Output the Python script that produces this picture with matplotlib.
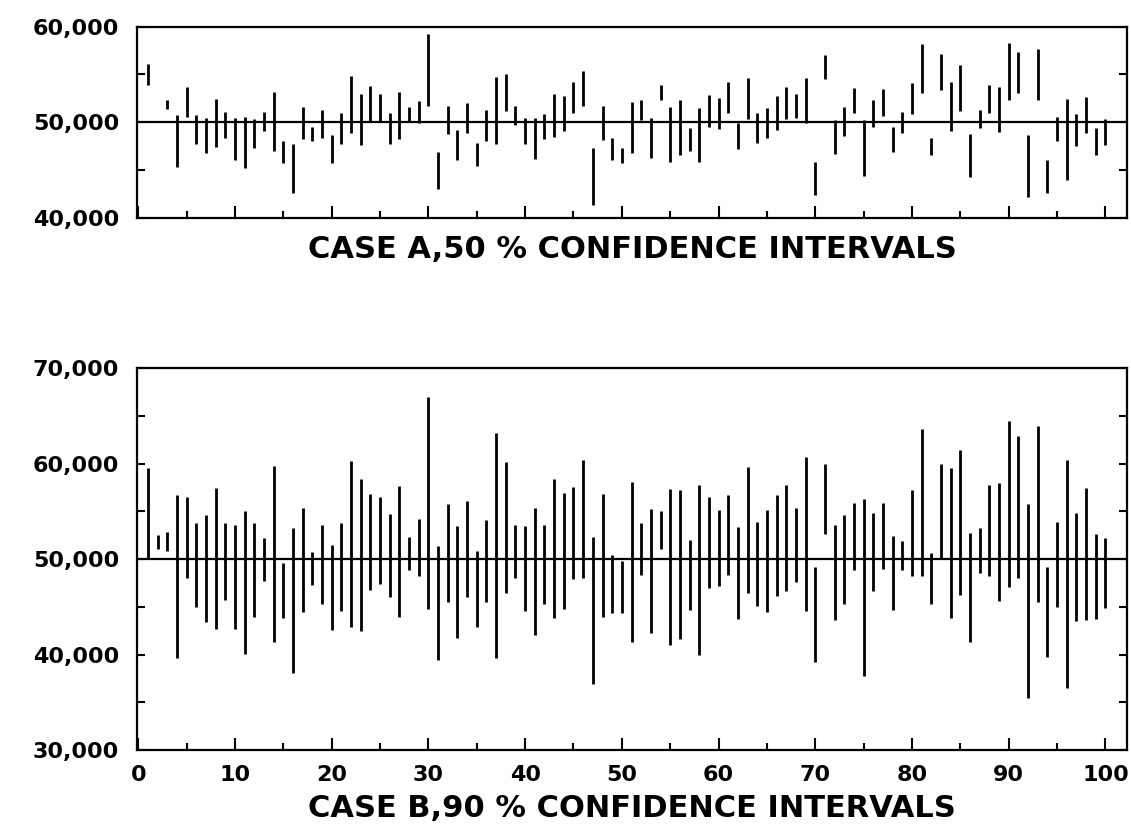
import numpy as np
import matplotlib.pyplot as plt
from matplotlib.ticker import MultipleLocator

# sample number of each interval
sample = list(range(1, 101))

# Case A, 50 % confidence intervals (thousands); sample 2 not visible in the chart
case_a_low = [53.9, np.nan, 51.4, 45.3, 50.6, 47.7, 46.8, 47.4, 48.4, 46.1,
              45.2, 47.3, 49.1, 47.0, 45.7, 42.6, 48.3, 48.1, 48.4, 45.7,
              47.7, 48.9, 47.6, 50.0, 50.0, 47.7, 48.3, 50.0, 49.9, 51.7,
              43.0, 48.8, 46.1, 48.9, 45.4, 48.0, 47.7, 51.2, 49.7, 47.7,
              46.2, 48.3, 48.5, 49.1, 51.0, 51.7, 41.4, 48.2, 46.1, 45.8,
              46.8, 50.2, 46.3, 52.3, 45.9, 46.6, 47.0, 45.9, 49.5, 49.3,
              51.0, 47.2, 50.3, 47.8, 48.4, 49.2, 50.3, 50.4, 49.9, 42.4,
              54.5, 46.7, 48.6, 51.0, 44.4, 49.5, 50.7, 46.9, 48.9, 50.9,
              53.1, 46.6, 53.4, 49.1, 51.2, 44.3, 49.4, 51.0, 49.0, 52.3,
              53.1, 42.2, 52.3, 42.6, 48.0, 44.0, 47.5, 48.9, 46.6, 47.6]
case_a_high = [56.1, np.nan, 52.3, 50.8, 53.7, 50.8, 50.5, 52.4, 51.1, 50.5,
               50.6, 50.3, 51.1, 53.2, 48.0, 47.7, 51.6, 49.5, 51.3, 48.7,
               51.0, 54.8, 53.0, 53.8, 53.0, 51.0, 53.2, 51.6, 52.2, 59.2,
               46.9, 51.7, 49.2, 52.0, 47.8, 51.3, 54.7, 55.0, 51.7, 50.4,
               50.4, 50.9, 53.0, 52.7, 54.2, 55.4, 47.3, 51.7, 48.4, 47.3,
               52.1, 52.3, 50.5, 53.9, 51.6, 52.3, 49.4, 51.5, 52.9, 52.5,
               54.2, 49.9, 54.6, 51.0, 51.5, 52.8, 53.7, 53.0, 54.6, 45.9,
               57.0, 50.2, 51.6, 53.6, 50.2, 52.3, 53.5, 49.5, 51.1, 54.1,
               58.2, 48.4, 57.1, 54.2, 56.0, 48.8, 51.3, 53.9, 53.7, 58.3,
               57.3, 48.7, 57.7, 46.1, 50.6, 52.4, 50.9, 52.6, 49.4, 50.3]

# Case B, 90 % confidence intervals (thousands)
case_b_low = [50.0, 51.1, 50.8, 39.6, 48.0, 45.0, 43.4, 42.7, 45.7, 42.7,
              40.1, 43.9, 47.7, 41.3, 43.8, 38.1, 44.5, 47.3, 45.3, 42.6,
              44.6, 42.9, 42.5, 46.8, 47.4, 46.0, 43.9, 48.8, 48.2, 44.8,
              39.4, 45.5, 41.7, 46.0, 42.9, 45.5, 39.6, 46.4, 48.0, 44.6,
              42.0, 45.3, 43.8, 44.8, 47.9, 48.0, 36.9, 43.9, 44.3, 44.3,
              41.3, 48.3, 42.3, 51.0, 41.0, 41.6, 44.7, 40.0, 47.0, 47.2,
              48.3, 43.7, 46.4, 45.1, 44.5, 46.1, 46.6, 47.6, 44.6, 39.2,
              52.6, 43.6, 45.3, 48.8, 37.8, 46.7, 49.0, 44.7, 48.8, 48.2,
              48.2, 45.3, 50.0, 43.8, 46.2, 41.3, 48.5, 48.2, 45.6, 47.1,
              48.0, 35.4, 45.5, 39.7, 45.0, 36.5, 43.5, 43.6, 43.7, 44.9]
case_b_high = [59.5, 52.5, 52.8, 56.7, 56.5, 53.8, 54.6, 57.4, 53.8, 53.6,
               55.0, 53.8, 52.2, 59.7, 49.6, 53.3, 55.3, 50.7, 53.6, 51.5,
               53.8, 60.3, 58.4, 56.8, 56.5, 54.7, 57.6, 52.3, 54.2, 67.0,
               51.4, 55.8, 53.5, 56.1, 50.8, 54.1, 63.2, 60.2, 53.6, 53.5,
               55.3, 53.6, 58.4, 56.9, 57.5, 60.4, 52.3, 56.8, 50.4, 49.8,
               58.1, 53.8, 55.2, 55.0, 57.3, 57.2, 52.0, 57.7, 56.5, 55.1,
               56.7, 53.4, 59.6, 53.9, 55.1, 56.7, 57.7, 55.3, 60.7, 49.2,
               59.9, 53.6, 54.6, 55.9, 56.3, 54.8, 55.9, 52.4, 51.9, 57.2,
               63.6, 50.6, 60.0, 59.5, 61.4, 52.7, 53.3, 57.7, 58.0, 64.5,
               62.9, 55.8, 63.9, 49.2, 53.9, 60.4, 54.8, 57.4, 52.6, 52.2]

true_value = 50000
a_ticks = [40000, 50000, 60000]
a_tick_labels = ['40,000', '50,000', '60,000']
b_ticks = [30000, 40000, 50000, 60000, 70000]
b_tick_labels = ['30,000', '40,000', '50,000', '60,000', '70,000']
x_ticks = list(range(0, 101, 10))

plt.rcParams['font.family'] = 'DejaVu Sans'
plt.rcParams['font.weight'] = 'bold'

fig = plt.figure(figsize=(11.31, 8.33), dpi=100)
ax_a = fig.add_axes([0.1214, 0.7383, 0.8748, 0.2297])
ax_b = fig.add_axes([0.1214, 0.0996, 0.8748, 0.4586])

panels = [
    (ax_a, case_a_low, case_a_high, (40000, 60000), a_ticks, a_tick_labels),
    (ax_b, case_b_low, case_b_high, (30000, 70000), b_ticks, b_tick_labels),
]

for ax, low, high, ylim, ticks, labels in panels:
    lo = np.array(low) * 1000
    hi = np.array(high) * 1000
    ok = ~np.isnan(lo)
    # one vertical line per interval
    ax.vlines(np.array(sample)[ok], lo[ok], hi[ok], color='black', lw=2.0)
    ax.axhline(true_value, color='black', lw=1.6)

    ax.set_xlim(-0.1, 102.2)
    ax.set_ylim(*ylim)
    ax.set_xticks(x_ticks)
    ax.xaxis.set_minor_locator(MultipleLocator(5))
    ax.set_yticks(ticks)
    ax.set_yticklabels(labels)
    ax.yaxis.set_minor_locator(MultipleLocator(5000))

    for s in ax.spines.values():
        s.set_linewidth(1.6)

    ax.tick_params(axis='x', which='major', direction='in', length=9, width=1.5,
                   labelsize=16, pad=11)
    ax.tick_params(axis='x', which='minor', direction='in', length=5, width=1.5)
    ax.tick_params(axis='y', which='both', direction='in', left=True, right=True,
                   length=6, width=1.5, labelsize=16, pad=13)

ax_a.tick_params(axis='x', labelbottom=False)

fig.text(0.559, 0.700, 'CASE A,50 % CONFIDENCE INTERVALS', ha='center', va='center',
         fontsize=22, fontweight='bold')
fig.text(0.559, 0.030, 'CASE B,90 % CONFIDENCE INTERVALS', ha='center', va='center',
         fontsize=22, fontweight='bold')

plt.savefig('out.png', dpi=100)
